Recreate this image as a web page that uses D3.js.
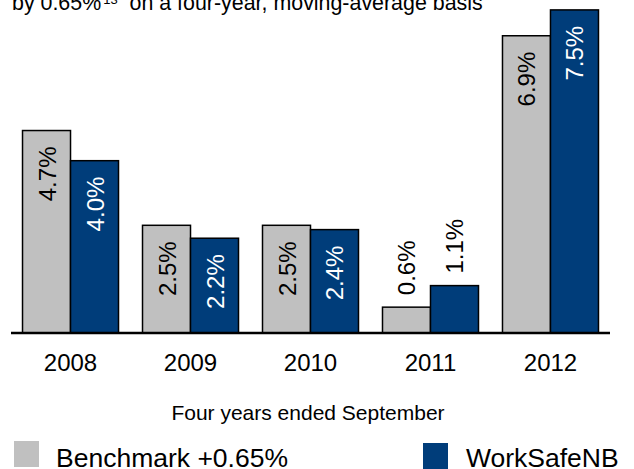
<!DOCTYPE html>
<html>
<head>
<meta charset="utf-8">
<script src="https://cdn.jsdelivr.net/npm/d3@7"></script>
<style>
  html, body { margin: 0; padding: 0; background: #fff; }
  svg { display: block; font-family: "Liberation Sans", Arial, sans-serif; }
</style>
</head>
<body>
<svg id="chart" width="634" height="469"></svg>
<script>
const years = ["2008", "2009", "2010", "2011", "2012"];
const seriesNames = ["Benchmark +0.65%", "WorkSafeNB"];
const benchmark = [4.7, 2.5, 2.5, 0.6, 6.9];
const worksafe = [4.0, 2.2, 2.4, 1.1, 7.5];
const seriesColors = ["#c0c0c0", "#003d7a"];
const labelColors = ["#000000", "#ffffff"];
const axisTitle = "Four years ended September";
const noteMain = "by 0.65%";
const noteSup = "13";
const noteRest = "  on a four-year, moving-average basis";

const svg = d3.select("#chart");
const baseY = 333;

const x0 = d3.scaleBand().domain(years).range([11, 610]).paddingInner(0.2).paddingOuter(0.096);
const x1 = d3.scaleBand().domain(seriesNames).range([0, x0.bandwidth()]);
const y = d3.scaleLinear().domain([0, 7.73]).range([baseY, 0]);

// top note text (continuation line, cut off at the top as in the source)
const note = svg.append("text").attr("x", 12).attr("y", 10)
  .attr("font-size", 21.4).attr("fill", "#000").attr("xml:space", "preserve")
  .style("white-space", "pre");
note.append("tspan").text(noteMain);
note.append("tspan").attr("font-size", 13).attr("dx", 2).attr("dy", -6).text(noteSup);
note.append("tspan").attr("dy", 6).text(noteRest);

const data = years.map((yr, i) => ({ year: yr, values: [benchmark[i], worksafe[i]] }));

const groups = svg.selectAll("g.grp").data(data).join("g")
  .attr("class", "grp")
  .attr("transform", d => `translate(${x0(d.year)},0)`);

groups.selectAll("rect").data(d => d.values.map((v, k) => ({ v, k }))).join("rect")
  .attr("x", d => x1(seriesNames[d.k]))
  .attr("y", d => y(d.v))
  .attr("width", x1.bandwidth())
  .attr("height", d => baseY - y(d.v))
  .attr("fill", d => seriesColors[d.k])
  .attr("stroke", "#000")
  .attr("stroke-width", 1.5);

groups.selectAll("text.lbl").data(d => d.values.map((v, k) => ({ v, k }))).join("text")
  .attr("class", "lbl")
  .attr("font-size", 24)
  .attr("transform", d => {
    const cx = x1(seriesNames[d.k]) + x1.bandwidth() / 2 + 9;
    const inside = d.v >= 1.5;
    const ty = inside ? y(d.v) + 16 : y(d.v) - 12;
    return `translate(${cx},${ty}) rotate(-90)`;
  })
  .attr("text-anchor", d => d.v >= 1.5 ? "end" : "start")
  .attr("fill", d => d.v >= 1.5 ? labelColors[d.k] : "#000")
  .text(d => d.v.toFixed(1) + "%");

// baseline
svg.append("line")
  .attr("x1", x0.range()[0]).attr("x2", x0.range()[1])
  .attr("y1", baseY).attr("y2", baseY)
  .attr("stroke", "#000").attr("stroke-width", 2.5);

// year labels
svg.selectAll("text.yr").data(years).join("text")
  .attr("class", "yr")
  .attr("x", d => x0(d) + x0.bandwidth() / 2)
  .attr("y", 371)
  .attr("text-anchor", "middle")
  .attr("font-size", 24)
  .attr("fill", "#000")
  .text(d => d);

// axis title
svg.append("text").attr("x", 308).attr("y", 420)
  .attr("text-anchor", "middle").attr("font-size", 21).attr("fill", "#000")
  .text(axisTitle);

// legend
const legendPos = [{ sx: 14, sy: 441, tx: 56 }, { sx: 423, sy: 443, tx: 466 }];
seriesNames.forEach((name, k) => {
  const p = legendPos[k];
  svg.append("rect").attr("x", p.sx).attr("y", p.sy).attr("width", 25).attr("height", 26)
    .attr("fill", seriesColors[k]);
  svg.append("text").attr("x", p.tx).attr("y", 467).attr("font-size", 26.5).attr("fill", "#000")
    .text(name);
});
</script>
</body>
</html>
